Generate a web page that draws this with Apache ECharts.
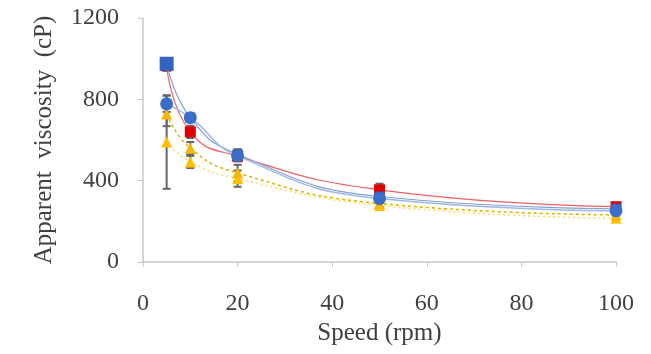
<!DOCTYPE html>
<html><head><meta charset="utf-8">
<script src="https://cdn.jsdelivr.net/npm/echarts@6/dist/echarts.min.js"></script>
<style>html,body{margin:0;padding:0;background:#fff}#c{width:651px;height:354px}</style>
</head><body><div id="c"></div>
<script>
const speeds = [5, 10, 20, 50, 100];
const redSq = [965, 640, 520, 355, 272];
const blueSq = [975, 710, 530, 322, 262];
const blueCi = [778, 710, 522, 312, 252];
const yellowA = [728, 560, 438, 288, 232];
const yellowB = [590, 492, 410, 278, 215];
const errRed = [25, 30, 25, 30, 12];
const errBlueSq = [25, 20, 25, 20, 12];
const errBlueCi = [40, 20, 25, 20, 12];
const errYellowA = [60, 30, 40, 20, 12];
const errYellowB = [230, 30, 40, 20, 12];
const xTicks = [0, 20, 40, 60, 80, 100];
const yTicks = [0, 400, 800, 1200];

const font = 'Liberation Serif';
function pts(v){return speeds.map((s,i)=>[s,v[i]]);}
function errs(v,e){return speeds.map((s,i)=>[s,v[i]-e[i],v[i]+e[i]]);}
const allErr = [].concat(errs(yellowB,errYellowB),errs(yellowA,errYellowA),errs(redSq,errRed),errs(blueCi,errBlueCi),errs(blueSq,errBlueSq));

const chart = echarts.init(document.getElementById('c'));
chart.setOption({
  animation:false,
  grid:{left:143,right:35,top:18,bottom:92},
  xAxis:{type:'value',min:xTicks[0],max:xTicks[xTicks.length-1],interval:xTicks[1]-xTicks[0],
    axisLine:{lineStyle:{color:'#c8c8c8',width:1.5}},
    axisTick:{show:true,length:5,lineStyle:{color:'#c8c8c8'}},
    splitLine:{show:false},
    axisLabel:{fontFamily:font,fontSize:24,color:'#404040',margin:30,formatter:v=>String(v)},
    name:'Speed (rpm)',nameLocation:'middle',nameGap:58,
    nameTextStyle:{fontFamily:font,fontSize:25,color:'#404040'}},
  yAxis:{type:'value',min:yTicks[0],max:yTicks[yTicks.length-1],interval:yTicks[1]-yTicks[0],
    axisLine:{show:true,lineStyle:{color:'#c8c8c8',width:1.5}},
    axisTick:{show:true,length:5,lineStyle:{color:'#c8c8c8'}},
    splitLine:{show:false},
    axisLabel:{fontFamily:font,fontSize:24,color:'#404040',margin:24,formatter:v=>String(v)},
    name:'Apparent  viscosity  (cP)',nameLocation:'middle',nameGap:86,
    nameTextStyle:{fontFamily:font,fontSize:25,color:'#404040'}},
  series:[
    {type:'custom',data:allErr,z:1,
      renderItem:function(params,api){
        const x=api.coord([api.value(0),api.value(1)]);
        const y2=api.coord([api.value(0),api.value(2)]);
        const w=4;
        return {type:'group',children:[
          {type:'line',shape:{x1:x[0],y1:x[1],x2:y2[0],y2:y2[1]},style:{stroke:'#666',lineWidth:2}},
          {type:'line',shape:{x1:x[0]-w,y1:x[1],x2:x[0]+w,y2:x[1]},style:{stroke:'#666',lineWidth:2}},
          {type:'line',shape:{x1:y2[0]-w,y1:y2[1],x2:y2[0]+w,y2:y2[1]},style:{stroke:'#666',lineWidth:2}}
        ]};
      }},
    {type:'line',data:pts(yellowB),smooth:0.5,symbol:'triangle',symbolSize:11,z:2,
      itemStyle:{color:'#ffc000'},lineStyle:{color:'#ffd966',width:1.5,type:[2,3]}},
    {type:'line',data:pts(yellowA),smooth:0.5,symbol:'triangle',symbolSize:11,z:2,
      itemStyle:{color:'#f5b800'},lineStyle:{color:'#e0b000',width:1.5,type:[3,3]}},
    {type:'line',data:pts(redSq),smooth:0.5,symbol:'rect',symbolSize:11,z:3,
      itemStyle:{color:'#e00000'},lineStyle:{color:'#f06060',width:1.2}},
    {type:'line',data:pts(blueSq),smooth:0.5,symbol:'rect',
      symbolSize:function(v,p){return p.dataIndex===0?14:10;},z:4,
      itemStyle:{color:'#3363c0'},lineStyle:{color:'#8aa0cc',width:1.2}},
    {type:'line',data:pts(blueCi),smooth:0.5,symbol:'circle',symbolSize:13,z:5,
      itemStyle:{color:'#3a6ec8'},lineStyle:{color:'#9cb8e8',width:1.5}}
  ]
});
</script></body></html>
